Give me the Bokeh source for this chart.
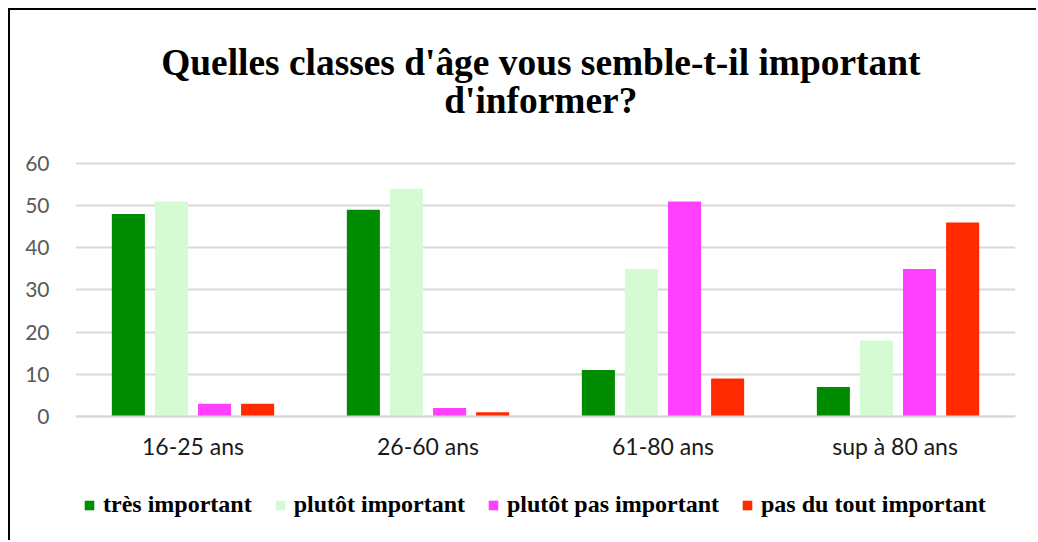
from bokeh.plotting import figure
from bokeh.models import (FactorRange, Range1d, Legend, LegendItem, ColumnDataSource,
                          FixedTicker, Label)
from bokeh.transform import dodge
from bokeh.embed import file_html
from bokeh.resources import INLINE

categories = ["16-25 ans", "26-60 ans", "61-80 ans", "sup à  80 ans"]
series_names = ["très important", "plutôt important", "plutôt pas important", "pas du tout important"]
tres_important = [48, 49, 11, 7]
plutot_important = [51, 54, 35, 18]
plutot_pas_important = [3, 2, 51, 35]
pas_du_tout_important = [3, 1, 9, 46]
colors = ["#008C00", "#D4FBD4", "#FF40FF", "#FF2A00"]
y_ticks = [0, 10, 20, 30, 40, 50, 60]
title_lines = ["Quelles classes d'âge vous semble-t-il important", "d'informer?"]

src = ColumnDataSource(dict(cat=categories, s0=tres_important, s1=plutot_important,
                            s2=plutot_pas_important, s3=pas_du_tout_important))

# frame spans the whole canvas height; y range extended so 0..60 sits where the reference has it
p = figure(width=1028, height=532, x_range=FactorRange(*categories, range_padding=0),
           y_range=Range1d(-29.88, 96.28), output_backend="svg", toolbar_location=None,
           min_border_left=65, min_border_right=23, min_border_top=0, min_border_bottom=0,
           styles={"border-top": "2px solid black", "border-left": "2px solid black",
                   "margin-left": "8px", "margin-top": "8px"})
p.title = None

for txt, yy in zip(title_lines, [83.95, 74.94]):
    p.add_layout(Label(x=1.98, y=yy, text=txt, text_align="center", text_baseline="middle",
                       text_font="Liberation Serif", text_font_style="bold",
                       text_font_size="37.4px", text_color="#000000"))

offsets = [-0.275, -0.0917, 0.0917, 0.275]
renderers = []
for i, key in enumerate(["s0", "s1", "s2", "s3"]):
    r = p.vbar(x=dodge("cat", offsets[i], range=p.x_range), top=key, width=0.1407,
               source=src, fill_color=colors[i], line_color=None)
    renderers.append(r)

legend = Legend(items=[LegendItem(label=series_names[i], renderers=[renderers[i]]) for i in range(4)],
                orientation="horizontal", location=(8, 24), padding=0, margin=0,
                spacing=22, label_standoff=8, glyph_width=12, glyph_height=12,
                label_text_font="Liberation Serif", label_text_font_style="bold",
                label_text_font_size="24px", label_text_color="#000000",
                border_line_color=None, background_fill_alpha=0)
p.add_layout(legend)

p.yaxis.ticker = FixedTicker(ticks=y_ticks)
p.ygrid.ticker = FixedTicker(ticks=y_ticks)
p.ygrid.grid_line_color = "#D9D9D9"
p.ygrid.grid_line_width = 2
p.xgrid.grid_line_color = None
p.yaxis.axis_line_color = None
p.yaxis.major_tick_line_color = None
p.yaxis.minor_tick_line_color = None
p.yaxis.major_label_text_font = "Lato"
p.yaxis.major_label_text_font_size = "21px"
p.yaxis.major_label_text_color = "#595959"
p.yaxis.major_label_standoff = 20
p.xaxis.fixed_location = 0
p.xaxis.axis_line_color = "#D9D9D9"
p.xaxis.axis_line_width = 2
p.xaxis.major_tick_line_color = None
p.xaxis.minor_tick_line_color = None
p.xaxis.major_label_text_font = "Lato"
p.xaxis.major_label_text_font_size = "23px"
p.xaxis.major_label_text_color = "#1A1A1A"
p.xaxis.major_label_standoff = 9
p.outline_line_color = None

open("out.html", "w").write(file_html(p, INLINE))
